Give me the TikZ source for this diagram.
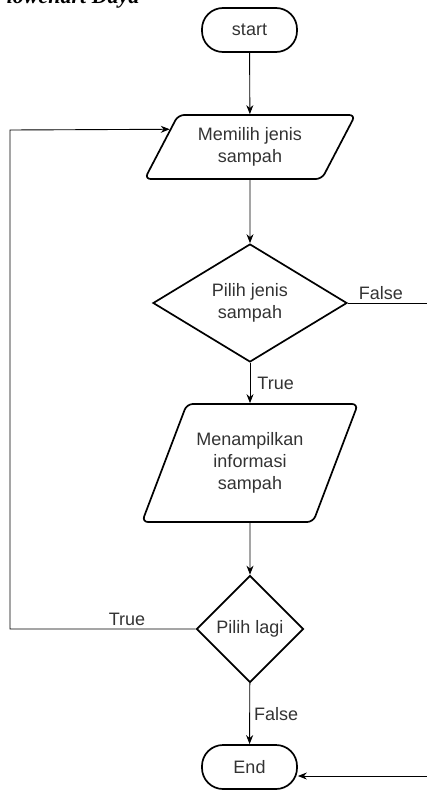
\documentclass[tikz,border=0pt]{standalone}
\usepackage{fontspec}
\setmainfont{Liberation Sans}
\newfontfamily\judulfont{Liberation Serif}
\usetikzlibrary{shapes.geometric,arrows.meta,calc}
\begin{document}
\begin{tikzpicture}[x=1pt,y=-1pt,font=\fontsize{18}{22}\selectfont,
  every node/.style={text=black!80},
  term/.style={draw=black,line width=1.7pt,rectangle,rounded corners=21pt,minimum width=95pt,minimum height=44pt},
  io/.style={draw=black,line width=1.7pt,trapezium,trapezium stretches=true,trapezium left angle=#1,trapezium right angle=180-#1,rounded corners=6pt,align=center,inner sep=0pt},
  dec/.style={draw=black,line width=1.7pt,diamond,align=center,inner sep=0pt},
  arr/.style={line width=0.9pt,-{Stealth[length=9pt,width=7pt]}}]
 \useasboundingbox (0,0) rectangle (427,790);
 \path (249.5,30) node[term] (start) {start}
  (250,147) node[io=58,minimum width=211pt,minimum height=64pt] (memilih) {Memilih jenis\\sampah}
  (250,303) node[dec,aspect=1.64,minimum width=194pt,minimum height=118pt] (pilih) {Pilih jenis\\sampah}
  (250,463) node[io=58,minimum width=216pt,minimum height=118pt] (tampil) {Menampilkan\\informasi\\sampah}
  (250,629) node[dec,minimum width=107pt,minimum height=107pt] (lagi) {Pilih lagi}
  (143,3) node[anchor=base east,text=black,font=\judulfont\bfseries\itshape\fontsize{22}{24}\selectfont] (judul) {Flowchart Daya}
  (249.5,767) node[term] (end) {End};
 \coordinate (back) at (10,130);
 \coordinate (masuk) at ($(memilih.top left corner)!0.23!(memilih.bottom left corner)$);
 \coordinate (fin) at ($(end.east)+(0,9)$);
 \draw[arr] (start) -- (memilih);
 \draw[arr] (memilih) -- (pilih);
 \draw[arr] (pilih) -- node[right,inner sep=7pt] {True} (tampil);
 \draw[arr] (tampil) -- (lagi);
 \draw[arr] (lagi) -- node[right,inner sep=4pt] {False} (end);
 \draw[arr] (lagi.west) -- node[pos=0.37,above] {True} (lagi.west -| back) -- (back) -- (masuk);
 \draw[arr] (pilih.east) -- node[pos=0.3,above] {False} ++(110,0) |- (fin);
\end{tikzpicture}
\end{document}
